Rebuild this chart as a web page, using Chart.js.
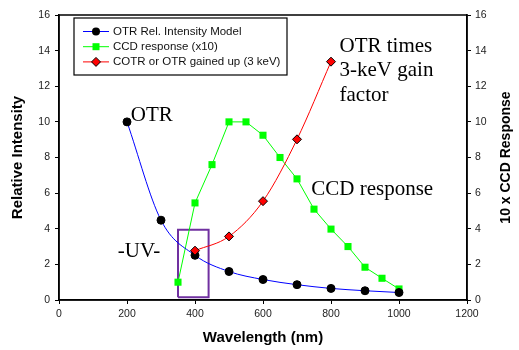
<!DOCTYPE html>
<html>
<head>
<meta charset="utf-8">
<script src="https://cdn.jsdelivr.net/npm/chart.js@4/dist/chart.umd.min.js"></script>
<style>
  html, body { margin: 0; padding: 0; background: #fff; }
  #wrap { width: 519px; height: 350px; }
</style>
</head>
<body>
<div id="wrap"><canvas id="chart1" width="519" height="350"></canvas></div>
<script>
// OTR relative intensity model
const otrWave = [200, 300, 400, 500, 600, 700, 800, 900, 1000]
const otrIntensity = [10.0, 4.48, 2.51, 1.6, 1.15, 0.86, 0.65, 0.52, 0.42]

// CCD response (x10)
const ccdWave = [350, 400, 450, 500, 550, 600, 650, 700, 750, 800, 850, 900, 950, 1000]
const ccdResponse = [1.0, 5.45, 7.6, 10.0, 10.0, 9.25, 8.0, 6.8, 5.1, 3.98, 3.0, 1.84, 1.22, 0.62]

// COTR or OTR gained up (3 keV)
const cotrWave = [400, 500, 600, 700, 800]
const cotrIntensity = [2.77, 3.57, 5.55, 9.02, 13.38]

// -UV- box corners (wavelength, intensity)
const uvBoxWave = [350, 440, 440, 350, 350]
const uvBoxValue = [0.15, 0.15, 3.95, 3.95, 0.15]

const xTicks = [0, 200, 400, 600, 800, 1000, 1200]
const yTicks = [0, 2, 4, 6, 8, 10, 12, 14, 16]

const seriesNames = ['OTR Rel. Intensity Model', 'CCD response (x10)', 'COTR or OTR gained up (3 keV)']

const toPoints = (xs, ys) => xs.map((x, i) => ({ x, y: ys[i] }))

const sans = '"Liberation Sans", Arial, sans-serif'
const serif = '"Liberation Serif", "Times New Roman", serif'

function marker(ctx, kind, x, y) {
  ctx.save()
  ctx.lineWidth = 1
  if (kind === 'circle') {
    ctx.fillStyle = '#000'
    ctx.beginPath(); ctx.arc(x, y, 4, 0, Math.PI * 2); ctx.fill()
  } else if (kind === 'rect') {
    ctx.fillStyle = '#00ff00'
    ctx.fillRect(x - 3.5, y - 3.5, 7, 7)
  } else {
    ctx.fillStyle = '#ff0000'
    ctx.strokeStyle = '#000'
    ctx.beginPath()
    ctx.moveTo(x, y - 4.5); ctx.lineTo(x + 4.5, y); ctx.lineTo(x, y + 4.5); ctx.lineTo(x - 4.5, y); ctx.closePath()
    ctx.fill(); ctx.stroke()
  }
  ctx.restore()
}

// frame, annotations, right title and legend
const extras = {
  id: 'extras',
  afterDraw(chart) {
    const ctx = chart.ctx
    const { left, right, top, bottom } = chart.chartArea
    const xs = chart.scales.x, ys = chart.scales.y
    ctx.save()
    ctx.strokeStyle = '#000'
    ctx.lineWidth = 1.5
    ctx.strokeRect(left, top, right - left, bottom - top)

    // right axis title, reading bottom to top
    ctx.save()
    ctx.translate(506, (top + bottom) / 2)
    ctx.rotate(-Math.PI / 2)
    ctx.fillStyle = '#000'
    ctx.font = 'bold 14px ' + sans
    ctx.textAlign = 'center'
    ctx.textBaseline = 'middle'
    ctx.fillText('10 x CCD Response', 0, 0)
    ctx.restore()

    // text notes in data coordinates
    ctx.fillStyle = '#000'
    ctx.font = '21px ' + serif
    ctx.textBaseline = 'alphabetic'
    ctx.textAlign = 'left'
    const notes = [
      ['OTR', 211, 10.05],
      ['OTR times', 825, 13.9],
      ['3-keV gain', 825, 12.55],
      ['factor', 825, 11.2],
      ['CCD response', 742, 5.88],
      ['-UV-', 173, 2.4]
    ]
    notes.forEach(n => ctx.fillText(n[0], xs.getPixelForValue(n[1]), ys.getPixelForValue(n[2])))

    // legend box
    ctx.fillStyle = '#fff'
    ctx.fillRect(74, 18, 213, 57)
    ctx.lineWidth = 1.2
    ctx.strokeRect(74, 18, 213, 57)
    const colors = ['#0000ff', '#00ff00', '#ff0000']
    const kinds = ['circle', 'rect', 'diamond']
    ctx.font = '11.5px ' + sans
    ctx.textBaseline = 'middle'
    seriesNames.forEach((name, i) => {
      const y = 31.5 + i * 15.2
      ctx.strokeStyle = colors[i]
      ctx.lineWidth = 1
      ctx.beginPath(); ctx.moveTo(83, y); ctx.lineTo(109, y); ctx.stroke()
      marker(ctx, kinds[i], 96, y)
      ctx.fillStyle = '#111'
      ctx.fillText(name, 113, y)
    })
    ctx.restore()
  }
}

const axisCommon = {
  grid: { drawOnChartArea: false, drawTicks: true, tickLength: 4, color: '#000', lineWidth: 1 },
  border: { display: true, color: '#000', width: 1.5 },
}
const plainTick = v => String(v)

new Chart(document.getElementById('chart1').getContext('2d'), {
  type: 'line',
  data: {
    datasets: [
      {
        label: seriesNames[2],
        data: toPoints(cotrWave, cotrIntensity),
        borderColor: '#ff0000',
        borderWidth: 1,
        pointStyle: 'rectRot',
        pointRadius: 4.5,
        pointBackgroundColor: '#ff0000',
        pointBorderColor: '#000',
        pointBorderWidth: 1,
        cubicInterpolationMode: 'monotone',
        order: 0
      },
      {
        label: seriesNames[0],
        data: toPoints(otrWave, otrIntensity),
        borderColor: '#0000ff',
        borderWidth: 1,
        pointStyle: 'circle',
        pointRadius: 4,
        pointBackgroundColor: '#000',
        pointBorderColor: '#000',
        cubicInterpolationMode: 'monotone',
        order: 1
      },
      {
        label: seriesNames[1],
        data: toPoints(ccdWave, ccdResponse),
        borderColor: '#00ff00',
        borderWidth: 1,
        pointStyle: 'rect',
        pointRadius: 5,
        pointBackgroundColor: '#00ff00',
        pointBorderColor: '#00ff00',
        pointBorderWidth: 0,
        tension: 0,
        order: 2
      },
      {
        label: 'UV',
        data: toPoints(uvBoxWave, uvBoxValue),
        borderColor: '#7030a0',
        borderWidth: 2,
        pointRadius: 0,
        tension: 0,
        order: 3
      }
    ]
  },
  options: {
    responsive: false,
    animation: false,
    devicePixelRatio: 1,
    layout: { padding: { top: 15, left: 0, right: 0, bottom: 0 } },
    plugins: { legend: { display: false }, tooltip: { enabled: false } },
    scales: {
      x: {
        ...axisCommon,
        type: 'linear',
        min: 0, max: 1200,
        afterBuildTicks: s => { s.ticks = xTicks.map(v => ({ value: v })) },
        afterFit: s => { s.height = 50 },
        ticks: { color: '#222', font: { family: sans, size: 10.5 }, padding: 4, maxRotation: 0, callback: plainTick },
        title: { display: true, text: 'Wavelength (nm)', color: '#000', font: { family: sans, size: 15, weight: 'bold' }, padding: { top: 0, bottom: 3 } }
      },
      y: {
        ...axisCommon,
        position: 'left',
        min: 0, max: 16,
        afterBuildTicks: s => { s.ticks = yTicks.map(v => ({ value: v })) },
        afterFit: s => { s.width = 59 },
        ticks: { color: '#222', font: { family: sans, size: 10.5 }, padding: 5, callback: plainTick },
        title: { display: true, text: 'Relative Intensity', color: '#000', font: { family: sans, size: 15, weight: 'bold' }, padding: { top: 9, bottom: 0 } }
      },
      y2: {
        ...axisCommon,
        position: 'right',
        min: 0, max: 16,
        afterBuildTicks: s => { s.ticks = yTicks.map(v => ({ value: v })) },
        afterFit: s => { s.width = 52 },
        ticks: { color: '#222', font: { family: sans, size: 10.5 }, padding: 4, callback: plainTick },
        title: { display: false }
      }
    }
  },
  plugins: [extras]
})
</script>
</body>
</html>
